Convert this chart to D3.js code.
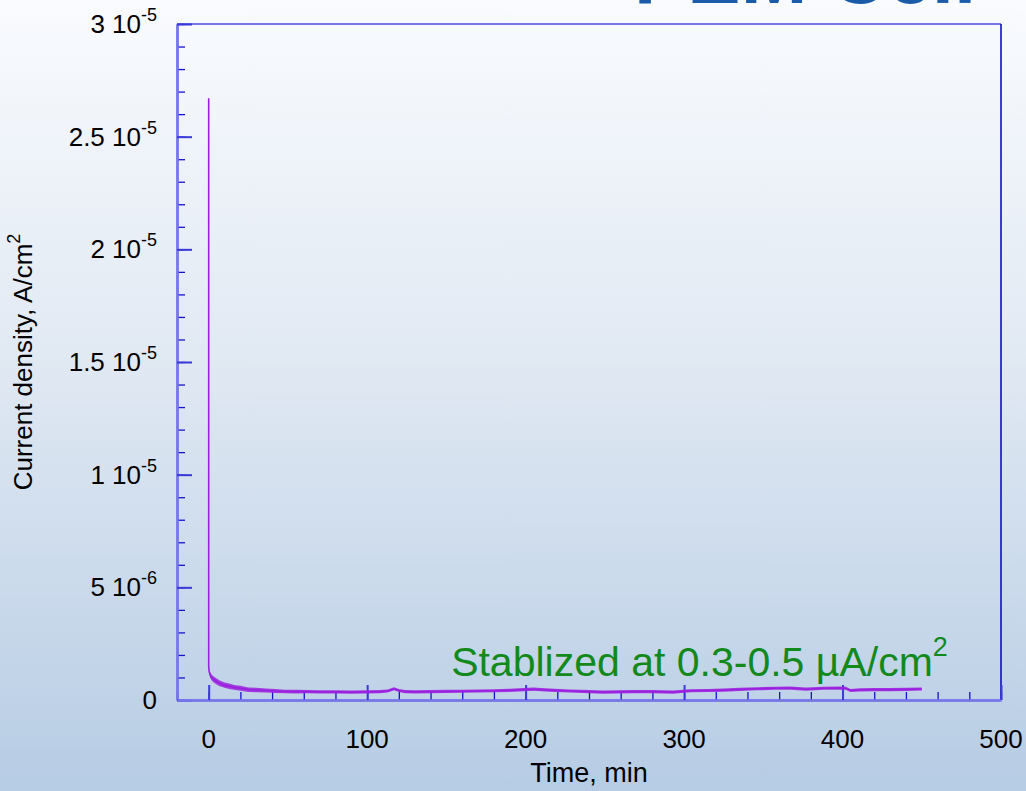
<!DOCTYPE html>
<html>
<head>
<meta charset="utf-8">
<script src="https://cdn.jsdelivr.net/npm/d3@7"></script>
<style>
  body { margin: 0; padding: 0; overflow: hidden; }
  text { font-family: Arial, "Liberation Sans", sans-serif; }
</style>
</head>
<body>
<div id="chart"></div>
<script>
// data (time in min, current density in uA/cm2)
var timeMin = [0, 0, 0.3, 1, 2, 3, 5, 7, 10, 13, 16, 20, 25, 30, 36, 42, 48, 55, 62, 70, 80, 90, 100,
    108, 113, 117, 120, 124, 130, 140, 150, 160, 170, 180, 190, 196, 205, 215, 228, 240, 249, 258,
    268, 280, 293, 304, 315, 325, 335, 346, 357, 367, 377, 388, 398, 402, 405, 411, 420, 430, 440, 450];
var currentUA = [26.7, 1.5, 1.26, 1.10, 0.98, 0.92, 0.82, 0.74, 0.66, 0.61, 0.56, 0.52, 0.46, 0.44, 0.42,
    0.40, 0.38, 0.37, 0.37, 0.36, 0.36, 0.35, 0.36, 0.37, 0.40, 0.50, 0.42, 0.37, 0.36, 0.37, 0.38,
    0.39, 0.40, 0.41, 0.43, 0.45, 0.48, 0.44, 0.40, 0.37, 0.35, 0.36, 0.37, 0.37, 0.35, 0.41, 0.42,
    0.44, 0.47, 0.50, 0.52, 0.53, 0.48, 0.52, 0.53, 0.52, 0.42, 0.45, 0.46, 0.46, 0.47, 0.49];
// half width of the noisy band (uA/cm2)
var noiseUA = [0, 0, 0.10, 0.12, 0.13, 0.13, 0.13, 0.13, 0.12, 0.12, 0.11, 0.11, 0.10, 0.10, 0.09,
    0.09, 0.08, 0.08, 0.07, 0.07, 0.07, 0.07, 0.07, 0.07, 0.07, 0.07, 0.07, 0.07, 0.07, 0.07, 0.07,
    0.07, 0.07, 0.07, 0.07, 0.07, 0.07, 0.07, 0.07, 0.07, 0.07, 0.07, 0.07, 0.07, 0.07, 0.07, 0.07,
    0.07, 0.07, 0.07, 0.07, 0.07, 0.07, 0.07, 0.07, 0.07, 0.07, 0.07, 0.07, 0.07, 0.07, 0.07];

var xTicks = [0, 100, 200, 300, 400, 500];
var yTicks = [0, 5e-6, 1e-5, 1.5e-5, 2e-5, 2.5e-5, 3e-5];
var yTickMant = ["0", "5", "1", "1.5", "2", "2.5", "3"];
var yTickExp = ["", "-6", "-5", "-5", "-5", "-5", "-5"];

var svgWidth = 1026;
var svgHeight = 791;
var margin = { top: 24, bottom: 91, right: 25, left: 177 };
var width = svgWidth - margin.left - margin.right;
var height = svgHeight - margin.top - margin.bottom;

var svg = d3.select("#chart")
    .append("svg")
    .attr("width", svgWidth)
    .attr("height", svgHeight);

// background gradient
var grad = svg.append("defs").append("linearGradient")
    .attr("id", "bg")
    .attr("x1", 0).attr("y1", 0).attr("x2", 0).attr("y2", 1);
grad.append("stop").attr("offset", "0%").attr("stop-color", "#f9fbfe");
grad.append("stop").attr("offset", "45%").attr("stop-color", "#e1e9f3");
grad.append("stop").attr("offset", "100%").attr("stop-color", "#b6cce4");

svg.append("rect")
    .attr("width", svgWidth)
    .attr("height", svgHeight)
    .attr("fill", "url(#bg)");

// slide title, mostly cut off at the top
svg.append("text")
    .attr("x", 634)
    .attr("y", 3)
    .attr("font-size", 80)
    .attr("font-weight", "bold")
    .attr("fill", "#1a5ca8")
    .text("PEM Cell");

var chartGroup = svg.append("g")
    .attr("transform", `translate(${margin.left}, ${margin.top})`);

var xScale = d3.scaleLinear().domain([-20, 500]).range([0, width]);
var yScale = d3.scaleLinear().domain([0, 3e-5]).range([height, 0]);

// frame: top and right
chartGroup.append("line")
    .attr("x1", 0).attr("x2", width).attr("y1", 0).attr("y2", 0)
    .attr("stroke", "#7676e6").attr("stroke-width", 2);
chartGroup.append("line")
    .attr("x1", width).attr("x2", width).attr("y1", 0).attr("y2", height)
    .attr("stroke", "#0000c0").attr("stroke-width", 1.5);

// minor ticks
var yMinor = d3.axisLeft(yScale)
    .tickValues(d3.range(0, 31).map(d => d * 1e-6))
    .tickSizeInner(-8).tickSizeOuter(0).tickFormat("");
chartGroup.append("g").attr("class", "minor").call(yMinor);

var xMinor = d3.axisBottom(xScale)
    .tickValues(d3.range(-20, 501, 20))
    .tickSizeInner(-8).tickSizeOuter(0).tickFormat("");
chartGroup.append("g").attr("class", "minor")
    .attr("transform", `translate(0, ${height})`)
    .call(xMinor);

// major ticks
var leftAxis = d3.axisLeft(yScale)
    .tickValues(yTicks).tickSizeInner(-15).tickSizeOuter(0).tickFormat("");
chartGroup.append("g").attr("class", "major").call(leftAxis);

var bottomAxis = d3.axisBottom(xScale)
    .tickValues(xTicks).tickSizeInner(-15).tickSizeOuter(0).tickFormat("");
chartGroup.append("g").attr("class", "major")
    .attr("transform", `translate(0, ${height})`)
    .call(bottomAxis);

chartGroup.selectAll(".minor .tick line").attr("stroke", "#1414cc").attr("stroke-width", 1.3);
chartGroup.selectAll(".major .tick line").attr("stroke", "#3a3ad8").attr("stroke-width", 2);
chartGroup.selectAll(".domain").attr("stroke", "#7878e8").attr("stroke-width", 2.5);

// y tick labels with exponents
yTicks.forEach(function(v, i) {
    var t = chartGroup.append("text")
        .attr("x", -20)
        .attr("y", yScale(v) + 9)
        .attr("text-anchor", "end")
        .attr("font-size", 26)
        .attr("fill", "#000");
    t.append("tspan").text(yTickMant[i] + (yTickExp[i] ? " 10" : ""));
    if (yTickExp[i]) {
        t.append("tspan")
            .attr("dy", -12)
            .attr("font-size", 18)
            .text(yTickExp[i]);
    }
});

// x tick labels
chartGroup.selectAll(".xlabel")
    .data(xTicks)
    .enter()
    .append("text")
    .attr("class", "xlabel")
    .attr("x", d => xScale(d))
    .attr("y", height + 48)
    .attr("text-anchor", "middle")
    .attr("font-size", 26)
    .attr("fill", "#000")
    .text(d => d);

// axis titles
chartGroup.append("text")
    .attr("x", width / 2)
    .attr("y", height + 82)
    .attr("text-anchor", "middle")
    .attr("font-size", 27)
    .attr("fill", "#000")
    .text("Time, min");

var yTitle = chartGroup.append("text")
    .attr("transform", `translate(${-145}, ${height / 2}) rotate(-90)`)
    .attr("text-anchor", "middle")
    .attr("font-size", 26)
    .attr("fill", "#000");
yTitle.append("tspan").text("Current density,  A/cm");
yTitle.append("tspan").attr("dy", -12).attr("font-size", 18).text("2");

// data
var series = timeMin.map((t, i) => ({ t: t, v: currentUA[i] * 1e-6, n: noiseUA[i] * 1e-6 }));

var band = d3.area()
    .x(d => xScale(d.t))
    .y0(d => yScale(d.v - d.n))
    .y1(d => yScale(d.v + d.n));

chartGroup.append("path")
    .datum(series.slice(2))
    .attr("d", band)
    .attr("fill", "#9b22dc")
    .attr("opacity", 0.85);

var line = d3.line()
    .x(d => xScale(d.t))
    .y(d => yScale(d.v));

chartGroup.append("path")
    .datum(series)
    .attr("d", line)
    .attr("fill", "none")
    .attr("stroke", "#9b1fe0")
    .attr("stroke-width", 1.6);

// annotation
var note = chartGroup.append("text")
    .attr("x", xScale(153))
    .attr("y", yScale(1.05e-6))
    .attr("font-size", 41)
    .attr("fill", "#13891c");
note.append("tspan").text("Stablized at 0.3-0.5 µA/cm");
note.append("tspan").attr("dy", -20).attr("font-size", 27).text("2");
</script>
</body>
</html>
